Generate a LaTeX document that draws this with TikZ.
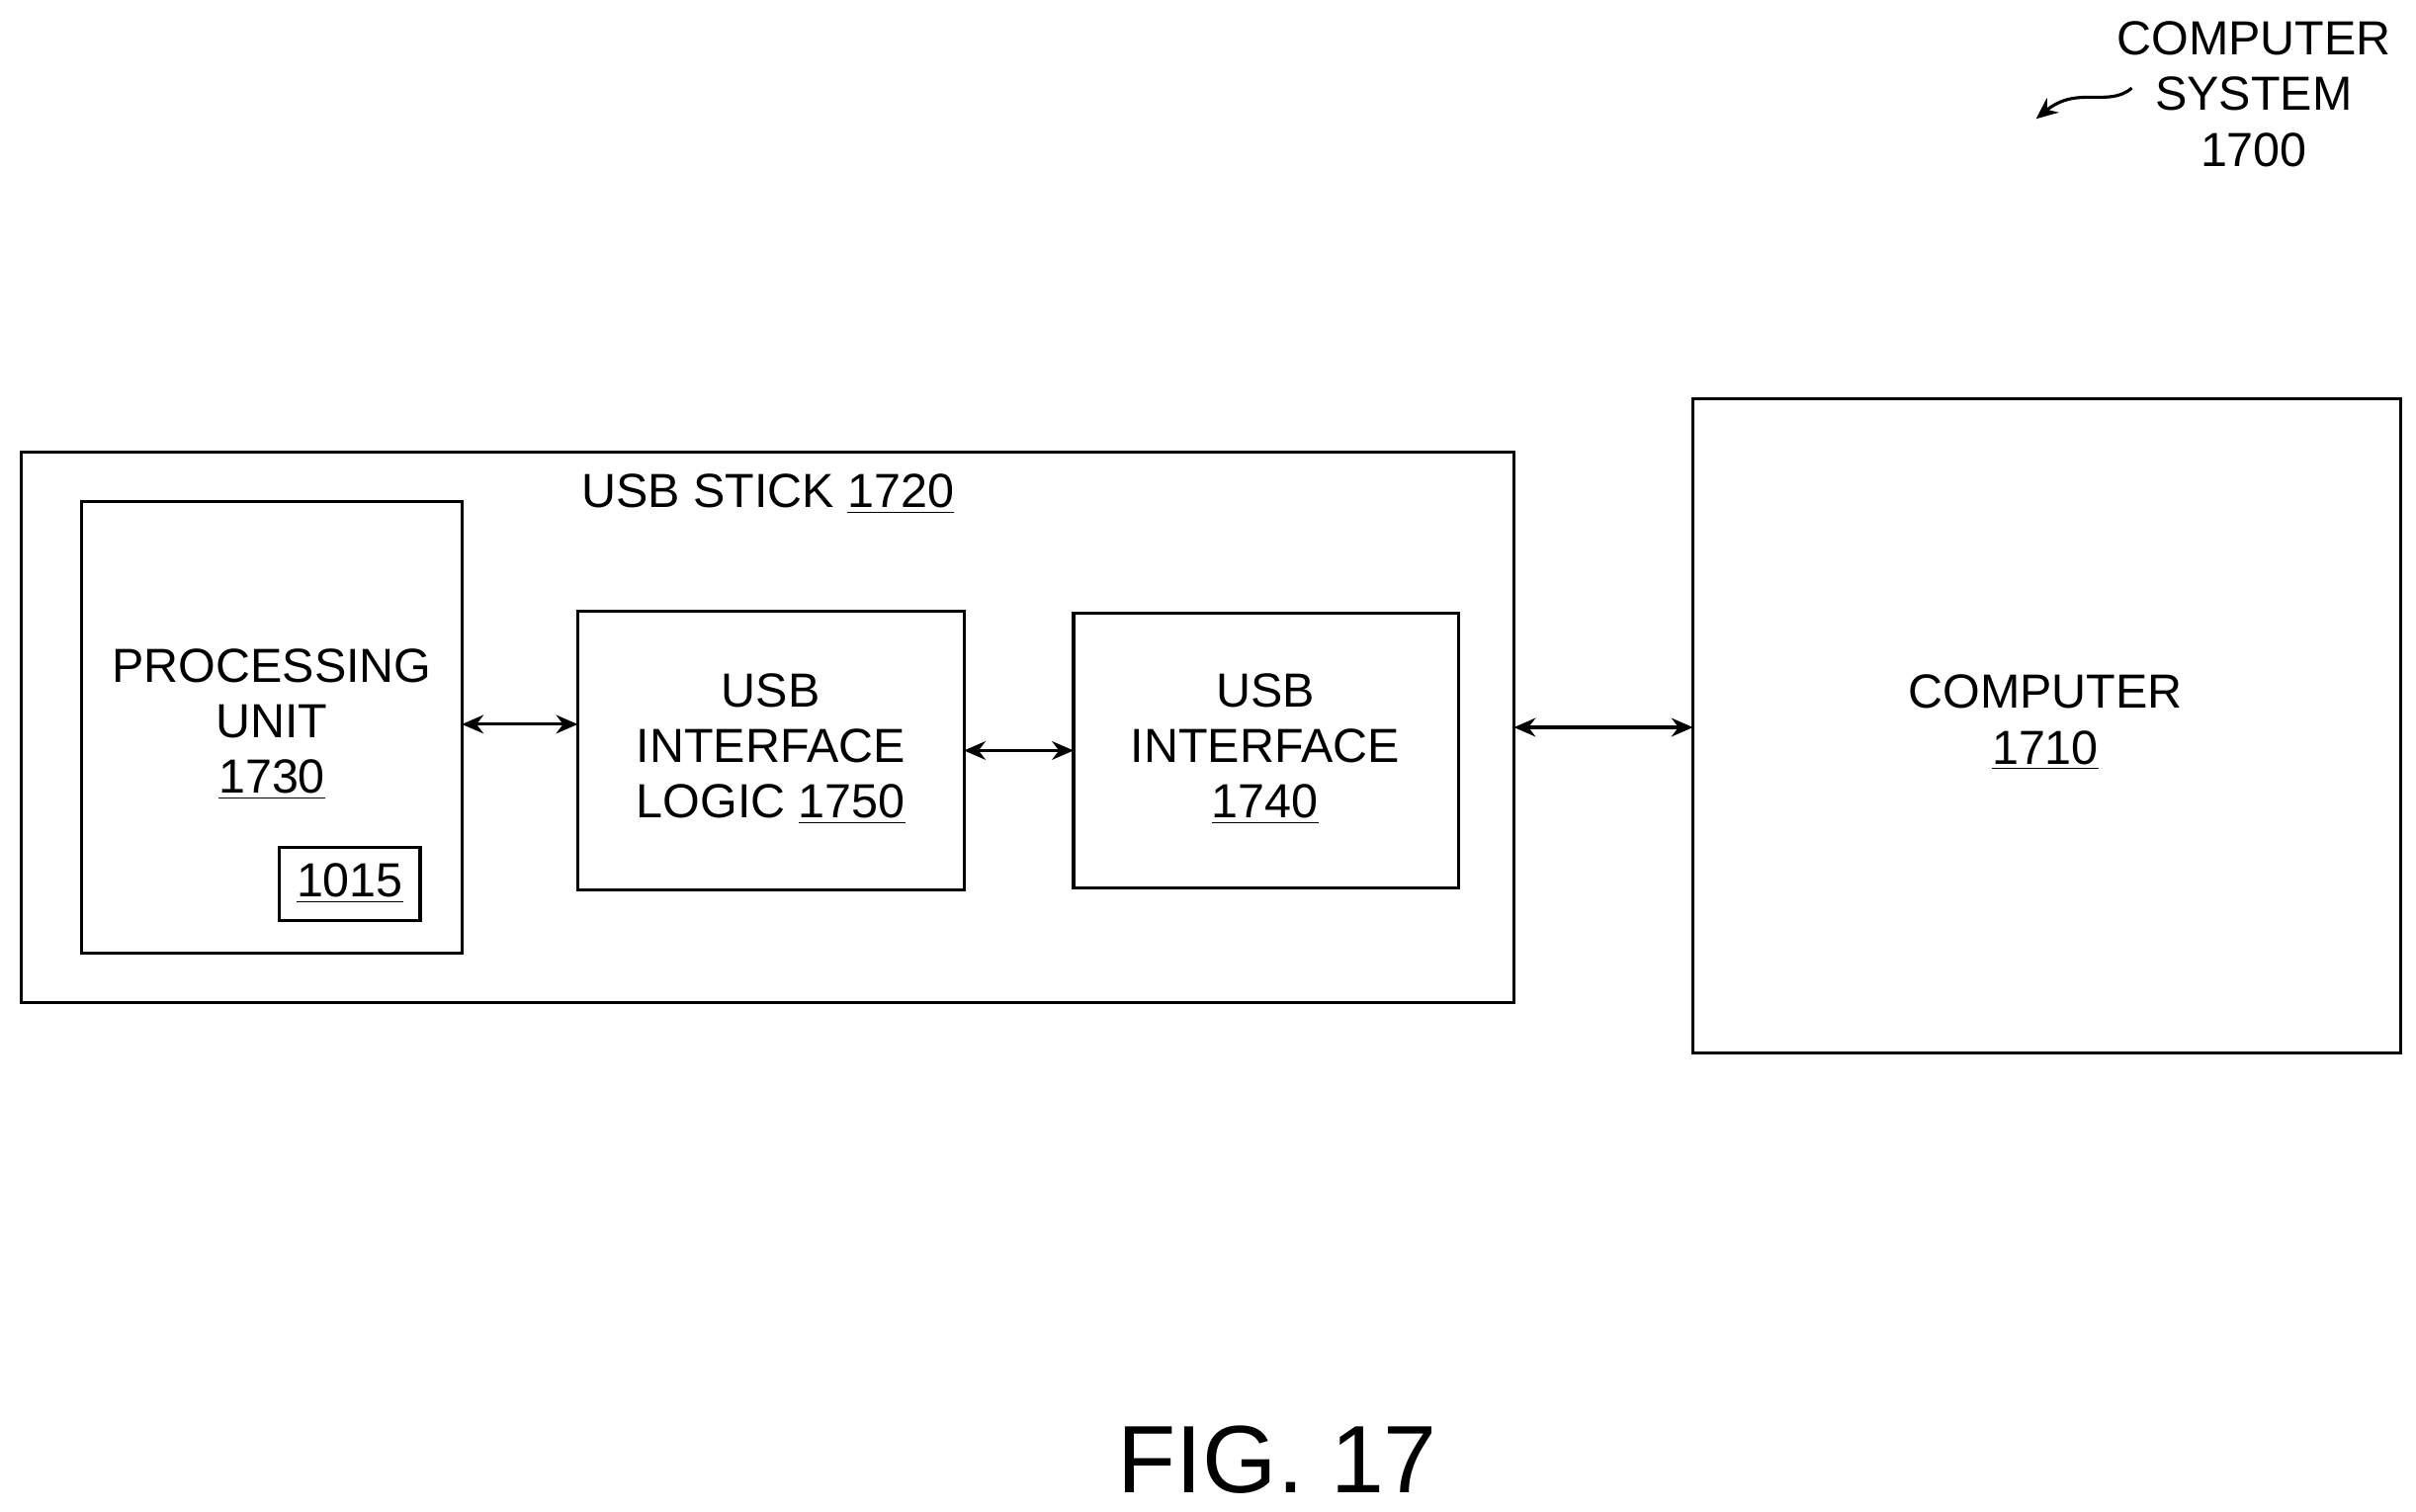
\documentclass[tikz,border=0pt]{standalone}
\usepackage{fontspec}
\setmainfont{Liberation Sans}
\usetikzlibrary{arrows.meta}
\begin{document}
\begin{tikzpicture}[x=0.5pt,y=-0.5pt,
  box/.style={draw,line width=1pt},
  lbl/.style={align=center,font=\fontsize{15.5}{18}\selectfont,inner sep=0pt},
  conn/.style={line width=1pt,{Stealth[length=7pt,width=6pt]}-{Stealth[length=7pt,width=6pt]}}]
\useasboundingbox (0,0) rectangle (1564,979);
\draw[box] (14,293) rectangle (980,649);
\coordinate (stickR) at (980,471);
\node[lbl] (stick) at (497,320) {USB STICK \underline{1720}};
\draw[box] (53,325) rectangle (299,617);
\coordinate (puR) at (299,469);
\node[lbl] (pu) at (176,469) {PROCESSING\\UNIT\\\underline{1730}};
\draw[box] (181,549) rectangle (272,596);
\node[lbl] (b1015) at (226.5,572) {\underline{1015}};
\draw[box] (374,396) rectangle (624,576);
\coordinate (logL) at (374,469);
\coordinate (logR) at (624,486);
\node[lbl] (log) at (499,485) {USB\\INTERFACE\\LOGIC \underline{1750}};
\draw[box] (695,397) rectangle (944,575);
\coordinate (ifL) at (695,486);
\node[lbl] (if) at (819,485) {USB\\INTERFACE\\\underline{1740}};
\draw[box] (1096,258) rectangle (1554,682);
\coordinate (compL) at (1096,471);
\node[lbl] (comp) at (1324,468) {COMPUTER\\\underline{1710}};
\draw[conn] (puR) -- (logL);
\draw[conn] (logR) -- (ifL);
\draw[conn] (stickR) -- (compL);
\node[lbl] (sys) at (1459,61) {COMPUTER\\SYSTEM\\1700};
\coordinate (sq1) at (1380,57);
\coordinate (sq2) at (1318,77);
\draw[line width=1pt,-{Stealth[length=7pt,width=6pt]}] (sq1) .. controls (1365,70) and (1345,55) .. (sq2);
\node[lbl,font=\fontsize{31}{36}\selectfont] (fig) at (827,945) {FIG. 17};
\end{tikzpicture}
\end{document}
